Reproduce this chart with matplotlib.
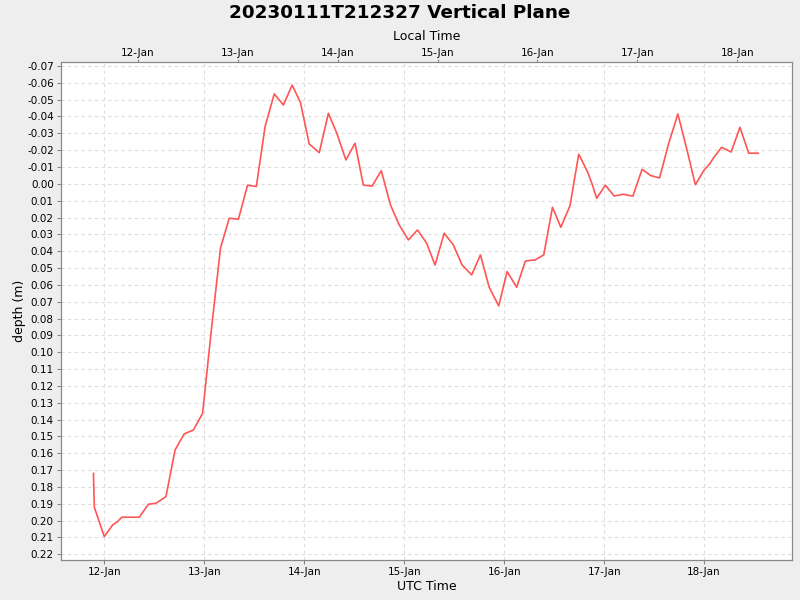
import pandas as pd
import numpy as np
import matplotlib
matplotlib.use('Agg')
import matplotlib.pyplot as plt
import matplotlib.dates as mdates

# hours after 2023-01-12 00:00 UTC
hours = [-2.6, -2.4, 0.0, 2.0, 3.1, 4.2, 6.2, 8.4, 10.6, 12.4, 14.8, 17.0, 19.2, 21.4,
         23.6, 25.7, 27.9, 30.0, 32.2, 34.4, 36.5, 38.6, 40.8, 43.0, 45.1, 47.1, 49.2,
         51.6, 53.8, 55.8, 58.0, 60.2, 62.2, 64.3, 66.5, 68.7, 70.8, 73.0, 75.2, 77.4,
         79.4, 81.6, 83.8, 85.9, 88.2, 90.3, 92.4, 94.7, 96.7, 99.0, 101.1, 103.4,
         105.5, 107.6, 109.6, 111.8, 113.9, 116.0, 117.2, 118.2, 120.3, 122.4, 124.6,
         126.9, 129.1, 131.2, 133.3, 135.5, 137.7, 139.8, 141.9, 144.0, 145.4, 146.2,
         148.2, 150.5, 152.6, 154.7, 157.0]
depth = [0.172, 0.192, 0.2095, 0.2026, 0.2008, 0.198, 0.198, 0.198, 0.1903, 0.1897,
         0.1858, 0.158, 0.1485, 0.1462, 0.1363, 0.0868, 0.0381, 0.0204, 0.021, 0.0008,
         0.0016, -0.034, -0.0534, -0.0468, -0.0587, -0.0482, -0.0237, -0.0185, -0.0419,
         -0.0302, -0.0142, -0.0241, 0.0008, 0.0013, -0.0078, 0.0125, 0.0244, 0.0333,
         0.0274, 0.0353, 0.0482, 0.0293, 0.0363, 0.0482, 0.0541, 0.0422, 0.0614, 0.0725,
         0.0521, 0.0614, 0.0458, 0.0452, 0.0422, 0.0139, 0.0258, 0.013, -0.0176, -0.0072,
         0.0007, 0.0086, 0.0008, 0.0072, 0.0062, 0.0073, -0.0086, -0.0049, -0.0035,
         -0.0240, -0.0415, -0.0210, 0.0005, -0.0082, -0.0120, -0.0152, -0.0217, -0.0189,
         -0.0336, -0.0182, -0.0182]

t0 = pd.Timestamp('2023-01-12 00:00')
times = [t0 + pd.Timedelta(hours=h) for h in hours]
xmin = t0 - pd.Timedelta(hours=10.46)
xmax = t0 + pd.Timedelta(hours=165.1)
local_offset = pd.Timedelta(hours=-8)

fig = plt.figure(figsize=(8, 6), dpi=100, facecolor='#eeeeee')
ax = fig.add_axes([0.0759, 0.0667, 0.9141, 0.8295])
ax.set_facecolor('white')
ax.plot(times, depth, color='#ff5555', lw=1.2)

ax.set_xlim(xmin, xmax)
ax.set_ylim(0.2234, -0.0722)
ax.set_yticks(np.round(np.arange(-0.07, 0.2201, 0.01), 2))
ax.yaxis.set_major_formatter(plt.FormatStrFormatter('%.2f'))
ax.xaxis.set_major_locator(mdates.DayLocator())
ax.xaxis.set_major_formatter(mdates.DateFormatter('%d-%b'))
ax.grid(True, color='#dddddd', ls=(0, (3, 3)), lw=0.8)
ax.set_axisbelow(True)
ax.tick_params(labelsize=7.5, length=3, color='#888888', pad=2)
for s in ax.spines.values():
    s.set_color('#888888')
ax.set_xlabel('UTC Time', fontsize=9, labelpad=2)
ax.set_ylabel('depth (m)', fontsize=9, labelpad=1)

ax2 = ax.twiny()
ax2.set_xlim(xmin + local_offset, xmax + local_offset)
ax2.xaxis.set_major_locator(mdates.DayLocator())
ax2.xaxis.set_major_formatter(mdates.DateFormatter('%d-%b'))
ax2.tick_params(labelsize=7.5, length=2, color='#888888', pad=1)
for s in ax2.spines.values():
    s.set_color('#888888')
ax2.set_xlabel('Local Time', fontsize=9, labelpad=5.5)

fig.suptitle('20230111T212327 Vertical Plane', fontsize=13.2, fontweight='bold', y=0.993)
fig.savefig('out.png', dpi=100, facecolor=fig.get_facecolor())
